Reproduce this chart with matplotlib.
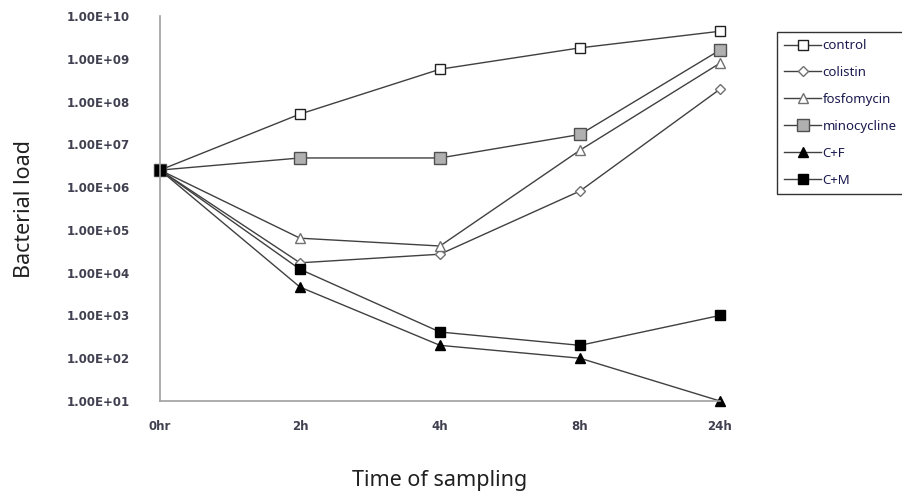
import math
import matplotlib
matplotlib.use("Agg")
import matplotlib.pyplot as plt
from matplotlib.ticker import FixedLocator, FuncFormatter

times = ["0hr", "2h", "4h", "8h", "24h"]
control = [2.5e6, 5.1e7, 5.7e8, 1.8e9, 4.4e9]
colistin = [2.5e6, 1.7e4, 2.7e4, 8.1e5, 1.95e8]
fosfomycin = [2.5e6, 6.4e4, 4.2e4, 7.3e6, 7.9e8]
minocycline = [2.5e6, 4.8e6, 4.8e6, 1.7e7, 1.6e9]
c_f = [2.5e6, 4.6e3, 2.0e2, 1.0e2, 1.0e1]
c_m = [2.5e6, 1.2e4, 4.1e2, 2.0e2, 1.0e3]

plt.rcParams['font.family'] = ['Noto Sans', 'DejaVu Sans']
fig = plt.figure(figsize=(9.03, 4.91), dpi=100)
ax = fig.add_axes([160/903, 1-401/491, (720-160)/903, (401-16)/491])

x = list(range(len(times)))
lc = '#404040'
series = [
    ("control", control, dict(marker='s', mfc='white', mec='#202020', ms=7)),
    ("colistin", colistin, dict(marker='D', mfc='white', mec='#707070', ms=5)),
    ("fosfomycin", fosfomycin, dict(marker='^', mfc='white', mec='#707070', ms=7)),
    ("minocycline", minocycline, dict(marker='s', mfc='#b0b0b0', mec='#505050', ms=8)),
    ("C+F", c_f, dict(marker='^', mfc='black', mec='black', ms=7)),
    ("C+M", c_m, dict(marker='s', mfc='black', mec='black', ms=7)),
]
for name, vals, st in series:
    ax.plot(x, vals, color=lc, lw=1.0, label=name, clip_on=False, **st)

ax.set_yscale('log')
ax.set_ylim(1e1, 1e10)
ax.set_xlim(0, 4)
ax.yaxis.set_major_locator(FixedLocator([10.0**k for k in range(1, 11)]))
ax.yaxis.set_minor_locator(FixedLocator([]))
ax.yaxis.set_major_formatter(FuncFormatter(lambda v, p: "1.00E+%02d" % round(math.log10(v))))
ax.set_xticks(x)
ax.set_xticklabels(times)
ax.tick_params(axis='both', length=0, labelsize=8.5, labelcolor='#404050',
               labelfontfamily='DejaVu Sans')
ax.tick_params(axis='y', pad=22)
ax.tick_params(axis='x', pad=14)
fig.canvas.draw()
for lab in ax.get_xticklabels() + ax.get_yticklabels():
    lab.set_fontweight('bold')
for s in ['top', 'right']:
    ax.spines[s].set_visible(False)
for s in ['left', 'bottom']:
    ax.spines[s].set_color('#a0a0a0')
    ax.spines[s].set_linewidth(1.2)

ax.set_ylabel("Bacterial load", fontsize=15.5, color='#202020')
ax.yaxis.set_label_coords((35-160)/560, 0.5)
ax.set_xlabel("Time of sampling", fontsize=15.5, labelpad=26, color='#202020')

leg = fig.legend(loc='upper left', bbox_to_anchor=(777/903, 1-32/491), frameon=True,
                 fancybox=False, prop={'size': 9.5}, handlelength=2.8,
                 labelspacing=1.05, borderpad=0.55, handletextpad=0.1, borderaxespad=0)
leg.get_frame().set_edgecolor('black')
leg.get_frame().set_linewidth(1.0)
for t in leg.get_texts():
    t.set_color('#1a1a50')

fig.savefig("out.png", dpi=100)
